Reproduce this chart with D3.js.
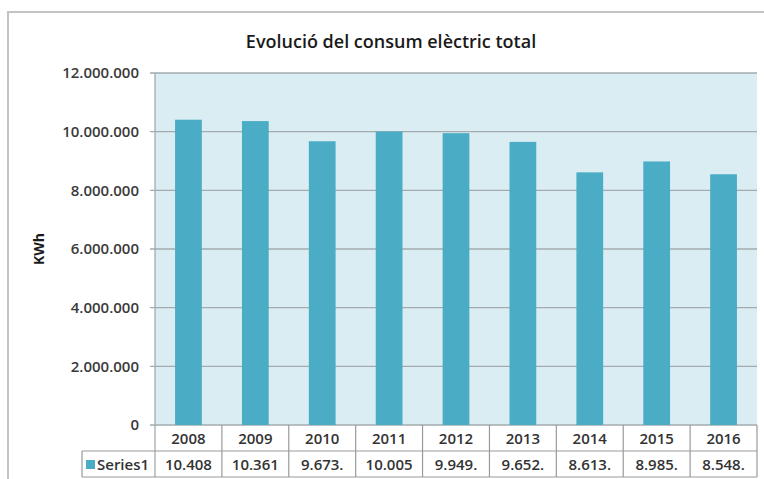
<!DOCTYPE html>
<html><head><meta charset="utf-8">
<script src="https://cdn.jsdelivr.net/npm/d3@7"></script>
<style>
html,body{margin:0;padding:0;background:#fff;}
svg{display:block;font-family:"Open Sans",sans-serif;}
</style></head>
<body>
<svg id="c" width="764" height="479"></svg>
<script>
const title = "Evolució del consum elèctric total";
const yAxisTitle = "KWh";
const seriesName = "Series1";
const categories = ["2008","2009","2010","2011","2012","2013","2014","2015","2016"];
const values = [10408000, 10361000, 9673000, 10005000, 9949000, 9652000, 8613000, 8985000, 8548000];
const tableLabels = ["10.408","10.361","9.673.","10.005","9.949.","9.652.","8.613.","8.985.","8.548."];
const yTicks = [0, 2000000, 4000000, 6000000, 8000000, 10000000, 12000000];
const yTickLabels = ["0","2.000.000","4.000.000","6.000.000","8.000.000","10.000.000","12.000.000"];

const svg = d3.select("#c");
const L = 155, R = 757, T = 73, B = 425;
const rowH = 26;
const labelLeft = 82;

// outer chart frame
svg.append("rect").attr("x", 8).attr("y", 12).attr("width", 800).attr("height", 500)
  .attr("fill", "#fff").attr("stroke", "#c4c4c4").attr("stroke-width", 2);

svg.append("text").attr("x", 391).attr("y", 48).attr("text-anchor", "middle")
  .attr("font-size", 18).attr("font-weight", 600).attr("fill", "#1a1a1a").text(title);

const x = d3.scaleBand().domain(categories).range([L, R]).paddingInner(0.6).paddingOuter(0.3);
const y = d3.scaleLinear().domain([0, 12000000]).range([B, T]);

// plot background
svg.append("rect").attr("x", L).attr("y", T).attr("width", R - L).attr("height", B - T).attr("fill", "#daedf3");

// gridlines
svg.append("g").selectAll("line").data(yTicks).join("line")
  .attr("x1", L - 5).attr("x2", R).attr("y1", d => y(d)).attr("y2", d => y(d))
  .attr("stroke", "#a3abae").attr("stroke-width", 1.3);

// y axis line
svg.append("line").attr("x1", L).attr("x2", L).attr("y1", T).attr("y2", B + 2 * rowH)
  .attr("stroke", "#a3abae").attr("stroke-width", 1.3);

// y tick labels
svg.append("g").selectAll("text").data(yTicks).join("text")
  .attr("x", 139).attr("y", d => y(d)).attr("dy", "0.35em").attr("text-anchor", "end")
  .attr("font-size", 15).attr("font-weight", 600).attr("fill", "#3a3a3a")
  .text((d, i) => yTickLabels[i]);

// y axis title
svg.append("text").attr("transform", `translate(44,${(T + B) / 2}) rotate(-90)`)
  .attr("text-anchor", "middle").attr("font-size", 14).attr("font-weight", 700).attr("fill", "#1a1a1a")
  .text(yAxisTitle);

// bars
svg.append("g").selectAll("rect").data(values).join("rect")
  .attr("x", (d, i) => x(categories[i])).attr("width", x.bandwidth())
  .attr("y", d => y(d)).attr("height", d => y(0) - y(d))
  .attr("fill", "#4bacc6");

// data table
const step = x.step();
const tg = svg.append("g").attr("stroke", "#9a9a9a").attr("stroke-width", 1.2);
tg.append("line").attr("x1", labelLeft).attr("x2", R).attr("y1", B + rowH).attr("y2", B + rowH);
tg.append("line").attr("x1", labelLeft).attr("x2", R).attr("y1", B + 2 * rowH).attr("y2", B + 2 * rowH);
tg.selectAll("line.v").data(categories).join("line").attr("class", "v")
  .attr("x1", d => x(d) - x.paddingOuter() * step + step).attr("x2", d => x(d) - x.paddingOuter() * step + step)
  .attr("y1", B).attr("y2", B + 2 * rowH);
tg.append("line").attr("x1", labelLeft).attr("x2", labelLeft).attr("y1", B + rowH).attr("y2", B + 2 * rowH);

svg.append("g").selectAll("text").data(categories).join("text")
  .attr("x", d => x(d) + x.bandwidth() / 2).attr("y", B + rowH / 2 + 1).attr("dy", "0.35em")
  .attr("text-anchor", "middle").attr("font-size", 15).attr("font-weight", 600).attr("fill", "#333")
  .text(d => d);
svg.append("g").selectAll("text").data(tableLabels).join("text")
  .attr("x", (d, i) => x(categories[i]) + x.bandwidth() / 2).attr("y", B + rowH * 1.5 + 1).attr("dy", "0.35em")
  .attr("text-anchor", "middle").attr("font-size", 15).attr("font-weight", 600).attr("fill", "#333")
  .text(d => d);

// legend key
svg.append("rect").attr("x", 86).attr("y", B + rowH * 1.5 - 4).attr("width", 9).attr("height", 9).attr("fill", "#4bacc6");
svg.append("text").attr("x", 97).attr("y", B + rowH * 1.5 + 1).attr("dy", "0.35em")
  .attr("font-size", 15).attr("font-weight", 600).attr("fill", "#333").text(seriesName);
</script>
</body></html>
